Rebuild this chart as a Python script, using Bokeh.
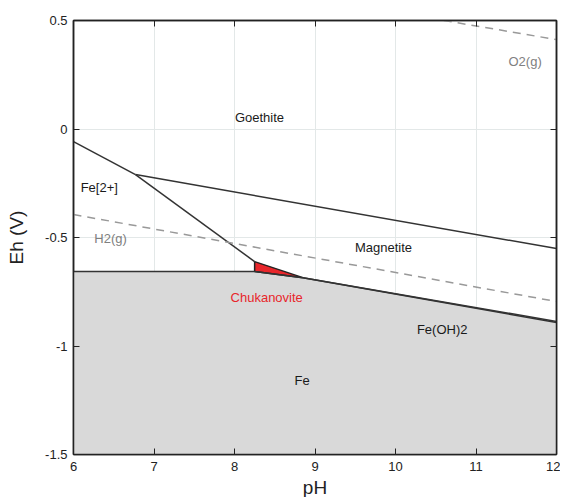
from bokeh.plotting import figure
from bokeh.models import LinearAxis, FixedTicker, Range1d, Label, CustomJSTickFormatter
from bokeh.embed import file_html
from bokeh.resources import INLINE

# Boundaries (pH, Eh)
goethite_fe2_ph = [6.0, 6.77]
goethite_fe2_eh = [-0.058, -0.21]
goethite_mag_ph = [6.77, 12.0]
goethite_mag_eh = [-0.21, -0.551]
fe2_mag_ph = [6.77, 8.25]
fe2_mag_eh = [-0.21, -0.611]
fe_upper_ph = [6.0, 8.25, 8.85, 12.0]
fe_upper_eh = [-0.657, -0.657, -0.685, -0.892]
mag_feoh2_ph = [8.85, 12.0]
mag_feoh2_eh = [-0.685, -0.887]
chuk_ph = [8.25, 8.25, 8.85]
chuk_eh = [-0.611, -0.657, -0.685]
h2_ph = [6.0, 12.0]
h2_eh = [-0.394, -0.795]
o2_ph = [10.6, 12.0]
o2_eh = [0.5, 0.412]

x_ticks = [6, 7, 8, 9, 10, 11, 12]
y_ticks = [-1.5, -1.0, -0.5, 0.0, 0.5]
y_tick_labels = {-1.5: "-1.5", -1.0: "-1", -0.5: "-0.5", 0.0: "0", 0.5: "0.5"}

labels = [
    ("Goethite", 8.31, 0.053, "#1a1a1a"),
    ("Fe[2+]", 6.32, -0.27, "#1a1a1a"),
    ("H2(g)", 6.46, -0.505, "#808080"),
    ("Magnetite", 9.85, -0.546, "#1a1a1a"),
    ("Chukanovite", 8.40, -0.776, "#e8262b"),
    ("Fe(OH)2", 10.58, -0.924, "#1a1a1a"),
    ("Fe", 8.84, -1.159, "#1a1a1a"),
    ("O2(g)", 11.61, 0.311, "#808080"),
]

p = figure(frame_width=483, frame_height=434, output_backend="svg",
           toolbar_location=None, x_range=Range1d(6, 12), y_range=Range1d(-1.5, 0.5),
           min_border_left=73, min_border_top=20, min_border_right=4, min_border_bottom=40)

p.outline_line_color = "#222222"
p.outline_line_width = 1.5
p.background_fill_color = "white"

# Fe region polygon
poly_x = fe_upper_ph + [12.0, 6.0]
poly_y = fe_upper_eh + [-1.5, -1.5]
p.patch(poly_x, poly_y, fill_color="#d9d9d9", line_color=None)
p.patch(chuk_ph, chuk_eh, fill_color="#e8262b", line_color="#222222", line_width=1.5)

for xs, ys in [(goethite_fe2_ph, goethite_fe2_eh), (goethite_mag_ph, goethite_mag_eh),
               (fe2_mag_ph, fe2_mag_eh), (fe_upper_ph, fe_upper_eh), (mag_feoh2_ph, mag_feoh2_eh)]:
    p.line(xs, ys, line_color="#333333", line_width=1.5)

p.line(h2_ph, h2_eh, line_color="#999999", line_width=1.5, line_dash="8 6")
p.line(o2_ph, o2_eh, line_color="#999999", line_width=1.5, line_dash="8 6")

for txt, x, y, c in labels:
    p.add_layout(Label(x=x, y=y, text=txt, text_color=c, text_font="Liberation Sans",
                       text_font_size="13px", text_align="center", text_baseline="middle"))

for ax in (p.xaxis[0], p.yaxis[0]):
    ax.major_tick_in = 6
    ax.major_tick_out = 0
    ax.minor_tick_line_color = None
    ax.axis_line_color = "#222222"
    ax.axis_line_width = 1.5
    ax.major_tick_line_color = "#222222"
    ax.major_label_text_font = "Liberation Sans"
    ax.major_label_text_font_size = "13px"
    ax.major_label_text_color = "#222222"
    ax.axis_label_text_font = "Liberation Sans"
    ax.axis_label_text_font_size = "19px"
    ax.axis_label_text_font_style = "normal"
    ax.axis_label_text_color = "#222222"

p.xaxis[0].ticker = FixedTicker(ticks=x_ticks)
p.yaxis[0].ticker = FixedTicker(ticks=y_ticks)
p.yaxis[0].major_label_overrides = y_tick_labels
p.xaxis[0].axis_label = "pH"
p.yaxis[0].axis_label = "Eh (V)"
p.xaxis[0].major_label_standoff = 7
p.yaxis[0].major_label_standoff = 6
p.xaxis[0].axis_label_standoff = 3
p.yaxis[0].axis_label_standoff = 15

blank = CustomJSTickFormatter(code="return '';")
top = LinearAxis(ticker=FixedTicker(ticks=x_ticks), formatter=blank,
                 major_tick_in=6, major_tick_out=0, minor_tick_line_color=None,
                 axis_line_color="#222222", axis_line_width=1.5, major_tick_line_color="#222222",
                 major_label_standoff=0)
right = LinearAxis(ticker=FixedTicker(ticks=y_ticks), formatter=CustomJSTickFormatter(code="return '';"),
                   major_tick_in=6, major_tick_out=0, minor_tick_line_color=None,
                   axis_line_color="#222222", axis_line_width=1.5, major_tick_line_color="#222222",
                   major_label_standoff=0)
p.add_layout(top, "above")
p.add_layout(right, "right")

p.xgrid.ticker = FixedTicker(ticks=[7, 8, 9, 10, 11])
p.ygrid.ticker = FixedTicker(ticks=[-1.0, -0.5, 0.0])
p.grid.grid_line_color = "#e3e8e8"
p.grid.grid_line_width = 1

open("out.html", "w").write(file_html(p, INLINE))
